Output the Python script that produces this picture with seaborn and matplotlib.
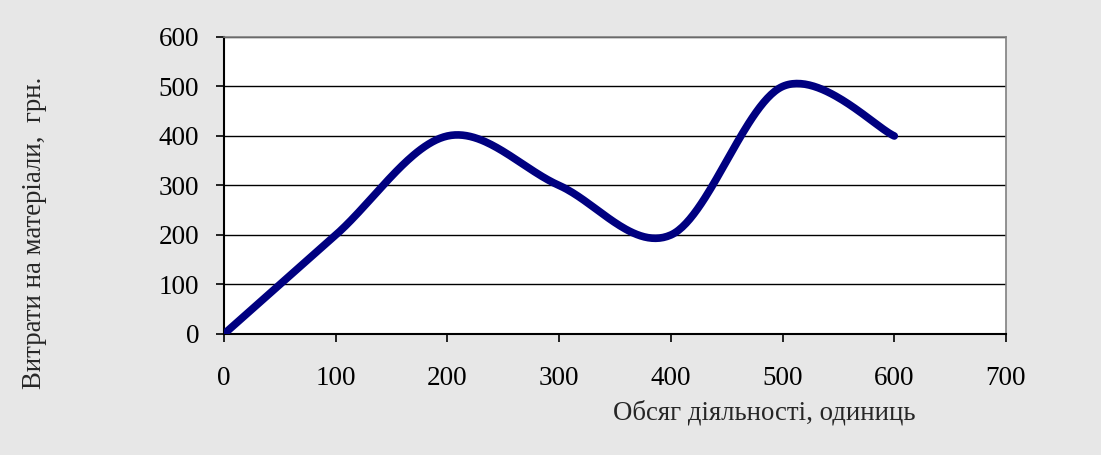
"""Витрати на матеріали vs обсяг діяльності — smoothed line chart."""
import matplotlib
matplotlib.use("Agg")
import matplotlib.pyplot as plt
import numpy as np
import seaborn as sns

# ---- data ----
volume = [0, 100, 200, 300, 400, 500, 600]
cost = [0, 200, 400, 300, 200, 500, 400]
x_ticks = [0, 100, 200, 300, 400, 500, 600, 700]
y_ticks = [0, 100, 200, 300, 400, 500, 600]
x_label = "Обсяг діяльності, одиниць"
y_label = "Витрати на матеріали,  грн."

LINE = "#000080"
BG = "#e7e7e7"


def smooth(xs, ys, n=60):
    """Excel-style smoothed line: cubic Bezier with Catmull-Rom control points."""
    p = np.column_stack([xs, ys]).astype(float)
    ext = np.vstack([p[0], p, p[-1]])
    out = []
    t = np.linspace(0, 1, n)[:, None]
    for i in range(1, len(ext) - 2):
        p0, p1, p2, p3 = ext[i - 1], ext[i], ext[i + 1], ext[i + 2]
        c1 = p1 + (p2 - p0) / 6
        c2 = p2 - (p3 - p1) / 6
        seg = ((1 - t) ** 3) * p1 + 3 * ((1 - t) ** 2) * t * c1 \
            + 3 * (1 - t) * t ** 2 * c2 + t ** 3 * p2
        out.append(seg if i == 1 else seg[1:])
    pts = np.vstack(out)
    return pts[:, 0], pts[:, 1]


sns.set_style("white")
plt.rcParams["font.family"] = ["Liberation Serif", "DejaVu Serif"]

fig = plt.figure(figsize=(11.01, 4.55), dpi=100)
fig.patch.set_facecolor(BG)
ax = fig.add_axes([0.2035, 0.266, 0.7102, 0.6527])
ax.set_facecolor("white")

sx, sy = smooth(volume, cost)
sns.lineplot(x=sx, y=sy, sort=False, color=LINE, linewidth=5.5,
             solid_capstyle="round", ax=ax, zorder=3)

ax.set_xlim(0, 700)
ax.set_ylim(0, 600)
ax.set_xticks(x_ticks)
ax.set_yticks(y_ticks)
ax.yaxis.grid(True, color="black", linewidth=1.0)
ax.xaxis.grid(False)
ax.tick_params(axis="both", bottom=True, left=True, direction="out", length=6,
               width=1.2, colors="black", labelsize=19.5)
ax.tick_params(axis="x", pad=17)
ax.tick_params(axis="y", pad=12)
for side in ["left", "bottom"]:
    ax.spines[side].set_color("black")
    ax.spines[side].set_linewidth(1.5)
for side in ["top", "right"]:
    ax.spines[side].set_color("#808080")
    ax.spines[side].set_linewidth(1.2)
ax.set_xlabel("")
ax.set_ylabel("")

fig.text(0.694, 0.092, x_label, ha="center", va="center", fontsize=19.3)
fig.text(0.031, 0.488, y_label, ha="center", va="center", rotation=90, fontsize=19.3)

fig.savefig("out.png", dpi=100, facecolor=BG)
